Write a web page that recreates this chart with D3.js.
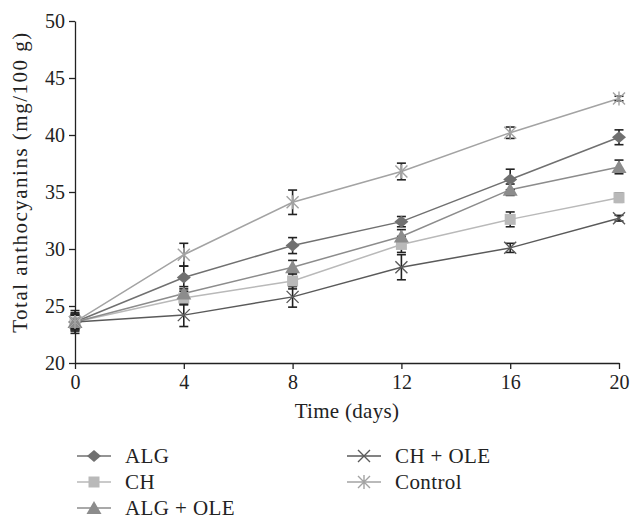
<!DOCTYPE html>
<html>
<head>
<meta charset="utf-8">
<script src="https://cdn.jsdelivr.net/npm/d3@7"></script>
<style>
  body { margin: 0; background: #fff; }
  text { font-family: "Liberation Serif", "DejaVu Serif", serif; }
</style>
</head>
<body>
<div id="chart"></div>
<script>
// Data
var days = [0, 4, 8, 12, 16, 20];
var yTicks = [20, 25, 30, 35, 40, 45, 50];

var algValues      = [23.6, 27.5, 30.3, 32.4, 36.1, 39.8];
var algErrors      = [0.8, 1.0, 0.7, 0.45, 0.9, 0.65];
var chValues       = [23.6, 25.7, 27.2, 30.4, 32.6, 34.5];
var chErrors       = [0.6, 0.6, 0.7, 0.7, 0.65, 0.4];
var algOleValues   = [23.6, 26.1, 28.4, 31.1, 35.2, 37.2];
var algOleErrors   = [0.6, 0.6, 0.6, 0.6, 0.5, 0.6];
var chOleValues    = [23.6, 24.2, 25.8, 28.4, 30.1, 32.7];
var chOleErrors    = [1.0, 1.0, 0.9, 1.1, 0.4, 0.25];
var controlValues  = [23.6, 29.5, 34.1, 36.8, 40.2, 43.2];
var controlErrors  = [0.7, 1.0, 1.07, 0.73, 0.5, 0.2];

var series = [
  { name: "ALG",       values: algValues,     errors: algErrors,     color: "#707070", symbol: "diamond" },
  { name: "CH",        values: chValues,      errors: chErrors,      color: "#b9b9b9", symbol: "square" },
  { name: "ALG + OLE", values: algOleValues,  errors: algOleErrors,  color: "#8c8c8c", symbol: "triangle" },
  { name: "CH + OLE",  values: chOleValues,   errors: chOleErrors,   color: "#5a5a5a", symbol: "cross" },
  { name: "Control",   values: controlValues, errors: controlErrors, color: "#a3a3a3", symbol: "asterisk" }
];

var W = 632, H = 519;
var margin = { left: 75, right: 13, top: 21, bottom: 156 };

var svg = d3.select("#chart").append("svg")
  .attr("width", W).attr("height", H);

var x = d3.scaleLinear().domain([0, 20]).range([margin.left, W - margin.right]);
var y = d3.scaleLinear().domain([20, 50]).range([H - margin.bottom, margin.top]);

// Axes
var xAxis = svg.append("g")
  .attr("transform", "translate(0," + y(20) + ")")
  .call(d3.axisBottom(x).tickValues(days).tickSize(6).tickSizeOuter(0));
var yAxis = svg.append("g")
  .attr("transform", "translate(" + x(0) + ",0)")
  .call(d3.axisLeft(y).tickValues(yTicks).tickSize(6).tickSizeOuter(0));

[xAxis, yAxis].forEach(function(a){
  a.select(".domain").attr("stroke", "#222").attr("stroke-width", 1.3);
  a.selectAll(".tick line").attr("stroke", "#222").attr("stroke-width", 1.3);
  a.selectAll(".tick text").attr("fill", "#222").style("font-size", "20px")
    .style("font-family", "'Liberation Serif', serif");
});
xAxis.selectAll(".tick text").attr("y", 9).attr("dy", "0.85em");
yAxis.selectAll(".tick text").attr("x", -10);

svg.append("text")
  .attr("x", (x(0) + x(20)) / 2).attr("y", 418)
  .attr("text-anchor", "middle").attr("fill", "#222")
  .style("font-size", "21px").style("letter-spacing", "0.3px")
  .text("Time (days)");

svg.append("text")
  .attr("transform", "translate(27,182) rotate(-90)")
  .attr("text-anchor", "middle").attr("fill", "#222")
  .style("font-size", "21px").style("letter-spacing", "1.5px")
  .text("Total anthocyanins (mg/100 g)");

function drawSymbol(g, type, cx, cy, color) {
  if (type === "diamond") {
    g.append("path").attr("d", "M" + (cx - 7) + "," + cy + "L" + cx + "," + (cy - 6) +
      "L" + (cx + 7) + "," + cy + "L" + cx + "," + (cy + 6) + "Z")
      .attr("fill", color);
  } else if (type === "square") {
    g.append("path").attr("d", d3.symbol().type(d3.symbolSquare).size(121)())
      .attr("transform", "translate(" + cx + "," + cy + ")").attr("fill", color);
  } else if (type === "triangle") {
    g.append("path").attr("d", "M" + (cx - 7.5) + "," + (cy + 6) + "L" + cx + "," + (cy - 7) +
      "L" + (cx + 7.5) + "," + (cy + 6) + "Z")
      .attr("fill", color);
  } else if (type === "cross") {
    var s = 6;
    g.append("path").attr("d", "M" + (cx - s) + "," + (cy - s) + "L" + (cx + s) + "," + (cy + s) +
      "M" + (cx - s) + "," + (cy + s) + "L" + (cx + s) + "," + (cy - s))
      .attr("stroke", color).attr("stroke-width", 1.4).attr("fill", "none");
  } else if (type === "asterisk") {
    var s = 6;
    g.append("path").attr("d", "M" + (cx - s) + "," + (cy - s) + "L" + (cx + s) + "," + (cy + s) +
      "M" + (cx - s) + "," + (cy + s) + "L" + (cx + s) + "," + (cy - s) +
      "M" + cx + "," + (cy - s - 1) + "L" + cx + "," + (cy + s + 1))
      .attr("stroke", color).attr("stroke-width", 1.4).attr("fill", "none");
  }
}

var line = d3.line().x(function(d, i){ return x(days[i]); }).y(function(d){ return y(d); });

// Lines
series.forEach(function(s){
  svg.append("path").datum(s.values)
    .attr("d", line).attr("fill", "none")
    .attr("stroke", s.color).attr("stroke-width", 1.5);
});

// Error bars
var cap = 4.5;
series.forEach(function(s){
  var g = svg.append("g").attr("stroke", "#222").attr("stroke-width", 1.6);
  s.values.forEach(function(v, i){
    var cx = x(days[i]), y1 = y(v - s.errors[i]), y2 = y(v + s.errors[i]);
    g.append("line").attr("x1", cx).attr("x2", cx).attr("y1", y1).attr("y2", y2);
    g.append("line").attr("x1", cx - cap).attr("x2", cx + cap).attr("y1", y1).attr("y2", y1);
    g.append("line").attr("x1", cx - cap).attr("x2", cx + cap).attr("y1", y2).attr("y2", y2);
  });
});

// Markers
series.forEach(function(s){
  var g = svg.append("g");
  s.values.forEach(function(v, i){
    drawSymbol(g, s.symbol, x(days[i]), y(v), s.color);
  });
});

// Legend
var legendPos = [[0, 0], [0, 1], [0, 2], [1, 0], [1, 1]];
series.forEach(function(s, i){
  var col = legendPos[i][0], row = legendPos[i][1];
  var lx = col === 0 ? 77 : 347;
  var ly = 456 + row * 26;
  var g = svg.append("g");
  g.append("line").attr("x1", lx).attr("x2", lx + 34).attr("y1", ly).attr("y2", ly)
    .attr("stroke", s.color).attr("stroke-width", 1.5);
  drawSymbol(g, s.symbol, lx + 17, ly, s.color);
  g.append("text").attr("x", lx + 48).attr("y", ly + 7)
    .attr("fill", "#222").style("font-size", "21px").style("letter-spacing", "0.4px").text(s.name);
});
</script>
</body>
</html>
